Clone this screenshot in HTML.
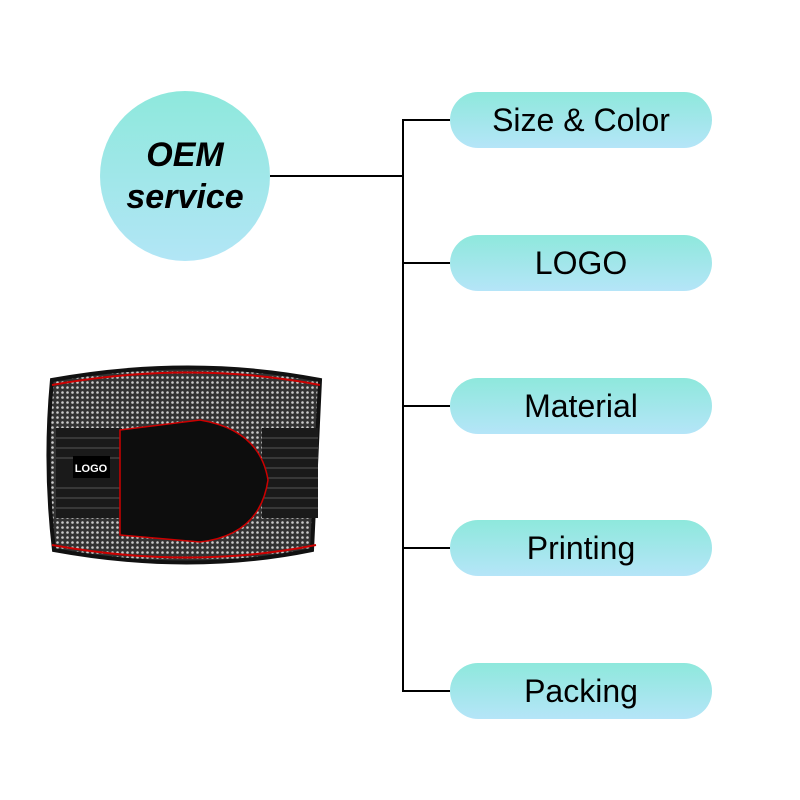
<!DOCTYPE html>
<html><head><style>
body{margin:0;width:800px;height:800px;background:#fff;position:relative;overflow:hidden;font-family:"Liberation Sans","DejaVu Sans",sans-serif}
.c{position:absolute;left:100px;top:91px;width:170px;height:170px;border-radius:50%;background:linear-gradient(#8ee8dc,#b2e6f6);display:flex;align-items:center;justify-content:center;text-align:center;font-weight:bold;font-style:italic;font-size:34px;line-height:42px;color:#000}
.p{position:absolute;left:450px;width:262px;height:56px;border-radius:28px;background:linear-gradient(#8ee8dc,#b5e5f8);display:flex;align-items:center;justify-content:center;font-size:32px;color:#000}
.l{position:absolute;background:#000}
</style></head><body>
<div class="c">OEM<br>service</div>
<div class="l" style="left:270px;top:175px;width:134px;height:2px"></div>
<div class="l" style="left:402px;top:119px;width:2px;height:573px"></div>
<div class="l" style="left:402px;top:119px;width:48px;height:2px"></div>
<div class="l" style="left:402px;top:262px;width:48px;height:2px"></div>
<div class="l" style="left:402px;top:405px;width:48px;height:2px"></div>
<div class="l" style="left:402px;top:547px;width:48px;height:2px"></div>
<div class="l" style="left:402px;top:690px;width:48px;height:2px"></div>
<div class="p" style="top:92px">Size &amp; Color</div>
<div class="p" style="top:235px">LOGO</div>
<div class="p" style="top:378px">Material</div>
<div class="p" style="top:520px">Printing</div>
<div class="p" style="top:663px">Packing</div>
<svg style="position:absolute;left:40px;top:350px" width="300" height="230">
<defs><pattern id="m" width="5" height="5" patternUnits="userSpaceOnUse"><rect width="5" height="5" fill="#333"/><circle cx="2.5" cy="2.5" r="1.3" fill="#ccc"/></pattern></defs>
<path d="M12 30 Q150 5 280 30 L272 200 Q150 225 14 200 Q4 115 12 30Z" fill="url(#m)" stroke="#111" stroke-width="4"/>
<path d="M12 35 Q150 10 280 35" fill="none" stroke="#c00" stroke-width="2"/>
<path d="M12 195 Q150 220 276 195" fill="none" stroke="#c00" stroke-width="2"/>
<rect x="16" y="78" width="66" height="90" fill="#1a1a1a"/>
<rect x="222" y="78" width="56" height="90" fill="#1a1a1a"/>
<g stroke="#555" stroke-width="1">
<path d="M16 88H82M16 98H82M16 108H82M16 138H82M16 148H82M16 158H82M222 88H278M222 98H278M222 108H278M222 118H278M222 128H278M222 138H278M222 148H278M222 158H278"/></g>
<path d="M80 80 L160 70 Q220 80 228 130 Q220 185 160 192 L80 185Z" fill="#0d0d0d" stroke="#c00" stroke-width="1.5"/>
<rect x="33" y="106" width="37" height="22" fill="#000"/>
<text x="51" y="122" fill="#fff" font-size="11" font-weight="bold" text-anchor="middle">LOGO</text>
</svg>
</body></html>
